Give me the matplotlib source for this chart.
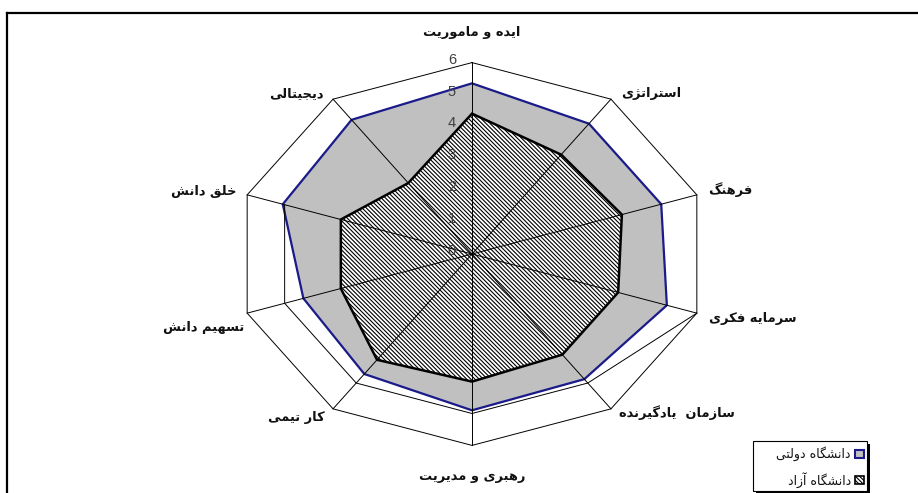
import matplotlib
matplotlib.use('Agg')
import matplotlib.pyplot as plt
import matplotlib.patches as mpatches
from matplotlib.lines import Line2D
import numpy as np

plt.rcParams['font.family'] = ['DejaVu Sans']
plt.rcParams['hatch.linewidth'] = 0.8

# داده‌ها (ساعتگرد از بالا)
categories = ['ایده و ماموریت', 'استراتژی', 'فرهنگ', 'سرمایه فکری', 'سازمان  یادگیرنده',
              'رهبری و مدیریت', 'کار تیمی', 'تسهیم دانش', 'خلق دانش', 'دیجیتالی']
dolati = [5.35, 5.05, 5.05, 5.2, 4.85, 4.9, 4.65, 4.5, 5.05, 5.2]
azad = [4.4, 3.85, 4.0, 3.9, 3.9, 4.0, 4.1, 3.5, 3.5, 2.75]
ticks = [0, 1, 2, 3, 4, 5, 6]
series_names = ['دانشگاه دولتی', 'دانشگاه آزاد']

# offsets of the category labels from the outer vertex (pixels)
label_offsets = [(0, 30, 'center'), (10, 6, 'left'), (11, 5, 'left'), (12, -5, 'left'),
                 (8, -4, 'left'), (0, -31, 'center'), (-8, -9, 'right'), (-3, -14, 'right'),
                 (-11, 3, 'right'), (-9, 6, 'right')]

GREY = '#c0c0c0'
NAVY = '#1a1a8a'
HATCH = '\\' * 8

# ---- simple arabic/persian shaping (matplotlib has no bidi) ----
FORMS = {
    'ا': ('\uFE8D', '\uFE8E'), 'آ': ('\uFE81', '\uFE82'),
    'ب': ('\uFE8F', '\uFE90', '\uFE91', '\uFE92'), 'ت': ('\uFE95', '\uFE96', '\uFE97', '\uFE98'),
    'ج': ('\uFE9D', '\uFE9E', '\uFE9F', '\uFEA0'), 'خ': ('\uFEA5', '\uFEA6', '\uFEA7', '\uFEA8'),
    'د': ('\uFEA9', '\uFEAA'), 'ر': ('\uFEAD', '\uFEAE'), 'ز': ('\uFEAF', '\uFEB0'),
    'ژ': ('\uFB8A', '\uFB8B'),
    'س': ('\uFEB1', '\uFEB2', '\uFEB3', '\uFEB4'), 'ش': ('\uFEB5', '\uFEB6', '\uFEB7', '\uFEB8'),
    'ف': ('\uFED1', '\uFED2', '\uFED3', '\uFED4'), 'ق': ('\uFED5', '\uFED6', '\uFED7', '\uFED8'),
    'ک': ('\uFB8E', '\uFB8F', '\uFB90', '\uFB91'), 'گ': ('\uFB92', '\uFB93', '\uFB94', '\uFB95'),
    'ل': ('\uFEDD', '\uFEDE', '\uFEDF', '\uFEE0'), 'م': ('\uFEE1', '\uFEE2', '\uFEE3', '\uFEE4'),
    'ن': ('\uFEE5', '\uFEE6', '\uFEE7', '\uFEE8'), 'ه': ('\uFEE9', '\uFEEA', '\uFEEB', '\uFEEC'),
    'و': ('\uFEED', '\uFEEE'), 'ی': ('\uFBFC', '\uFBFD', '\uFBFE', '\uFBFF'),
}


def fa(s):
    out = []
    for i, c in enumerate(s):
        if c not in FORMS:
            out.append(c)
            continue
        f = FORMS[c]
        prev_c = s[i - 1] if i > 0 else ''
        next_c = s[i + 1] if i + 1 < len(s) else ''
        jp = prev_c in FORMS and len(FORMS[prev_c]) == 4
        jn = next_c in FORMS and len(f) == 4
        if jp and jn:
            out.append(f[3])
        elif jp:
            out.append(f[1])
        elif jn:
            out.append(f[2])
        else:
            out.append(f[0])
    return ''.join(reversed(out))


W, H = 918, 493
fig = plt.figure(figsize=(W / 100, H / 100), dpi=100)
ax = fig.add_axes([0, 0, 1, 1])
cx, cy = 472, 239          # centre in pixels (from bottom)
ux, uy = 39.4, 31.9        # pixels per unit
ax.set_xlim(-cx / ux, (W - cx) / ux)
ax.set_ylim(-cy / uy, (H - cy) / uy)
ax.axis('off')

n = len(categories)
theta = np.deg2rad(np.arange(n) * 360 / n)
sx, sy = np.sin(theta), np.cos(theta)


def xy(vals):
    v = np.asarray(vals, dtype=float)
    return np.append(v * sx, v[0] * sx[0]), np.append(v * sy, v[0] * sy[0])


# series
x1, y1 = xy(dolati)
ax.fill(x1, y1, facecolor=GREY, edgecolor=NAVY, linewidth=1.6, zorder=2)
x2, y2 = xy(azad)
ax.fill(x2, y2, facecolor='white', edgecolor='black', hatch=HATCH, linewidth=1.8, zorder=3)

# grid: spokes + outer ring
rmax = ticks[-1]
for i in range(n):
    ax.plot([0, rmax * sx[i]], [0, rmax * sy[i]], color='black', lw=0.7, zorder=4)
xo, yo = xy([rmax] * n)
ax.plot(xo, yo, color='black', lw=0.7, zorder=4)
# partial inner ring seen in the original
part = [(3, 6), (4, 5), (5, 5), (6, 5), (7, 5), (8, 5)]
ax.plot([r * sx[i] for i, r in part], [r * sy[i] for i, r in part], color='black', lw=0.7, zorder=4)

# tick labels along the top spoke
for t in ticks:
    ax.text(-16 / ux, t + 3 / uy, str(t), ha='right', va='center', fontsize=10.5,
            family='Liberation Sans', color='#404040', zorder=5)

# category labels
for i, lab in enumerate(categories):
    dx, dy, ha = label_offsets[i]
    ax.text(rmax * sx[i] + dx / ux, rmax * sy[i] + dy / uy, fa(lab), ha=ha, va='center',
            fontsize=9.4, fontweight='bold', color='#111111', zorder=5)

# frame (only left and top edges are inside the picture)
fig.add_artist(Line2D([7 / W, 7 / W], [-0.1, 1 - 12.5 / H], color='black', lw=1.6,
                      transform=fig.transFigure))
fig.add_artist(Line2D([7 / W, 1.1], [1 - 12.5 / H, 1 - 12.5 / H], color='black', lw=1.6,
                      transform=fig.transFigure))


# legend drawn by hand (pixel boxes, origin top-left)
def fbox(x0, y0, w, h, **kw):
    return mpatches.Rectangle((x0 / W, 1 - (y0 + h) / H), w / W, h / H,
                              transform=fig.transFigure, **kw)


fig.add_artist(fbox(756, 444, 114, 50, facecolor='black', edgecolor='none', zorder=10))
fig.add_artist(fbox(753, 441, 114, 50, facecolor='white', edgecolor='black', linewidth=0.8, zorder=11))
legend_rows = [(454, dict(facecolor=GREY, edgecolor=NAVY, linewidth=1.5)),
               (480, dict(facecolor='white', edgecolor='black', hatch=HATCH, linewidth=1.2))]
for name, (yc, style) in zip(series_names, legend_rows):
    fig.add_artist(fbox(855, yc - 4, 9, 8, zorder=12, **style))
    fig.text(851 / W, 1 - yc / H, fa(name), ha='right', va='center', fontsize=9,
             color='#111111', zorder=12)

fig.savefig('out.png', dpi=100, facecolor='white')
